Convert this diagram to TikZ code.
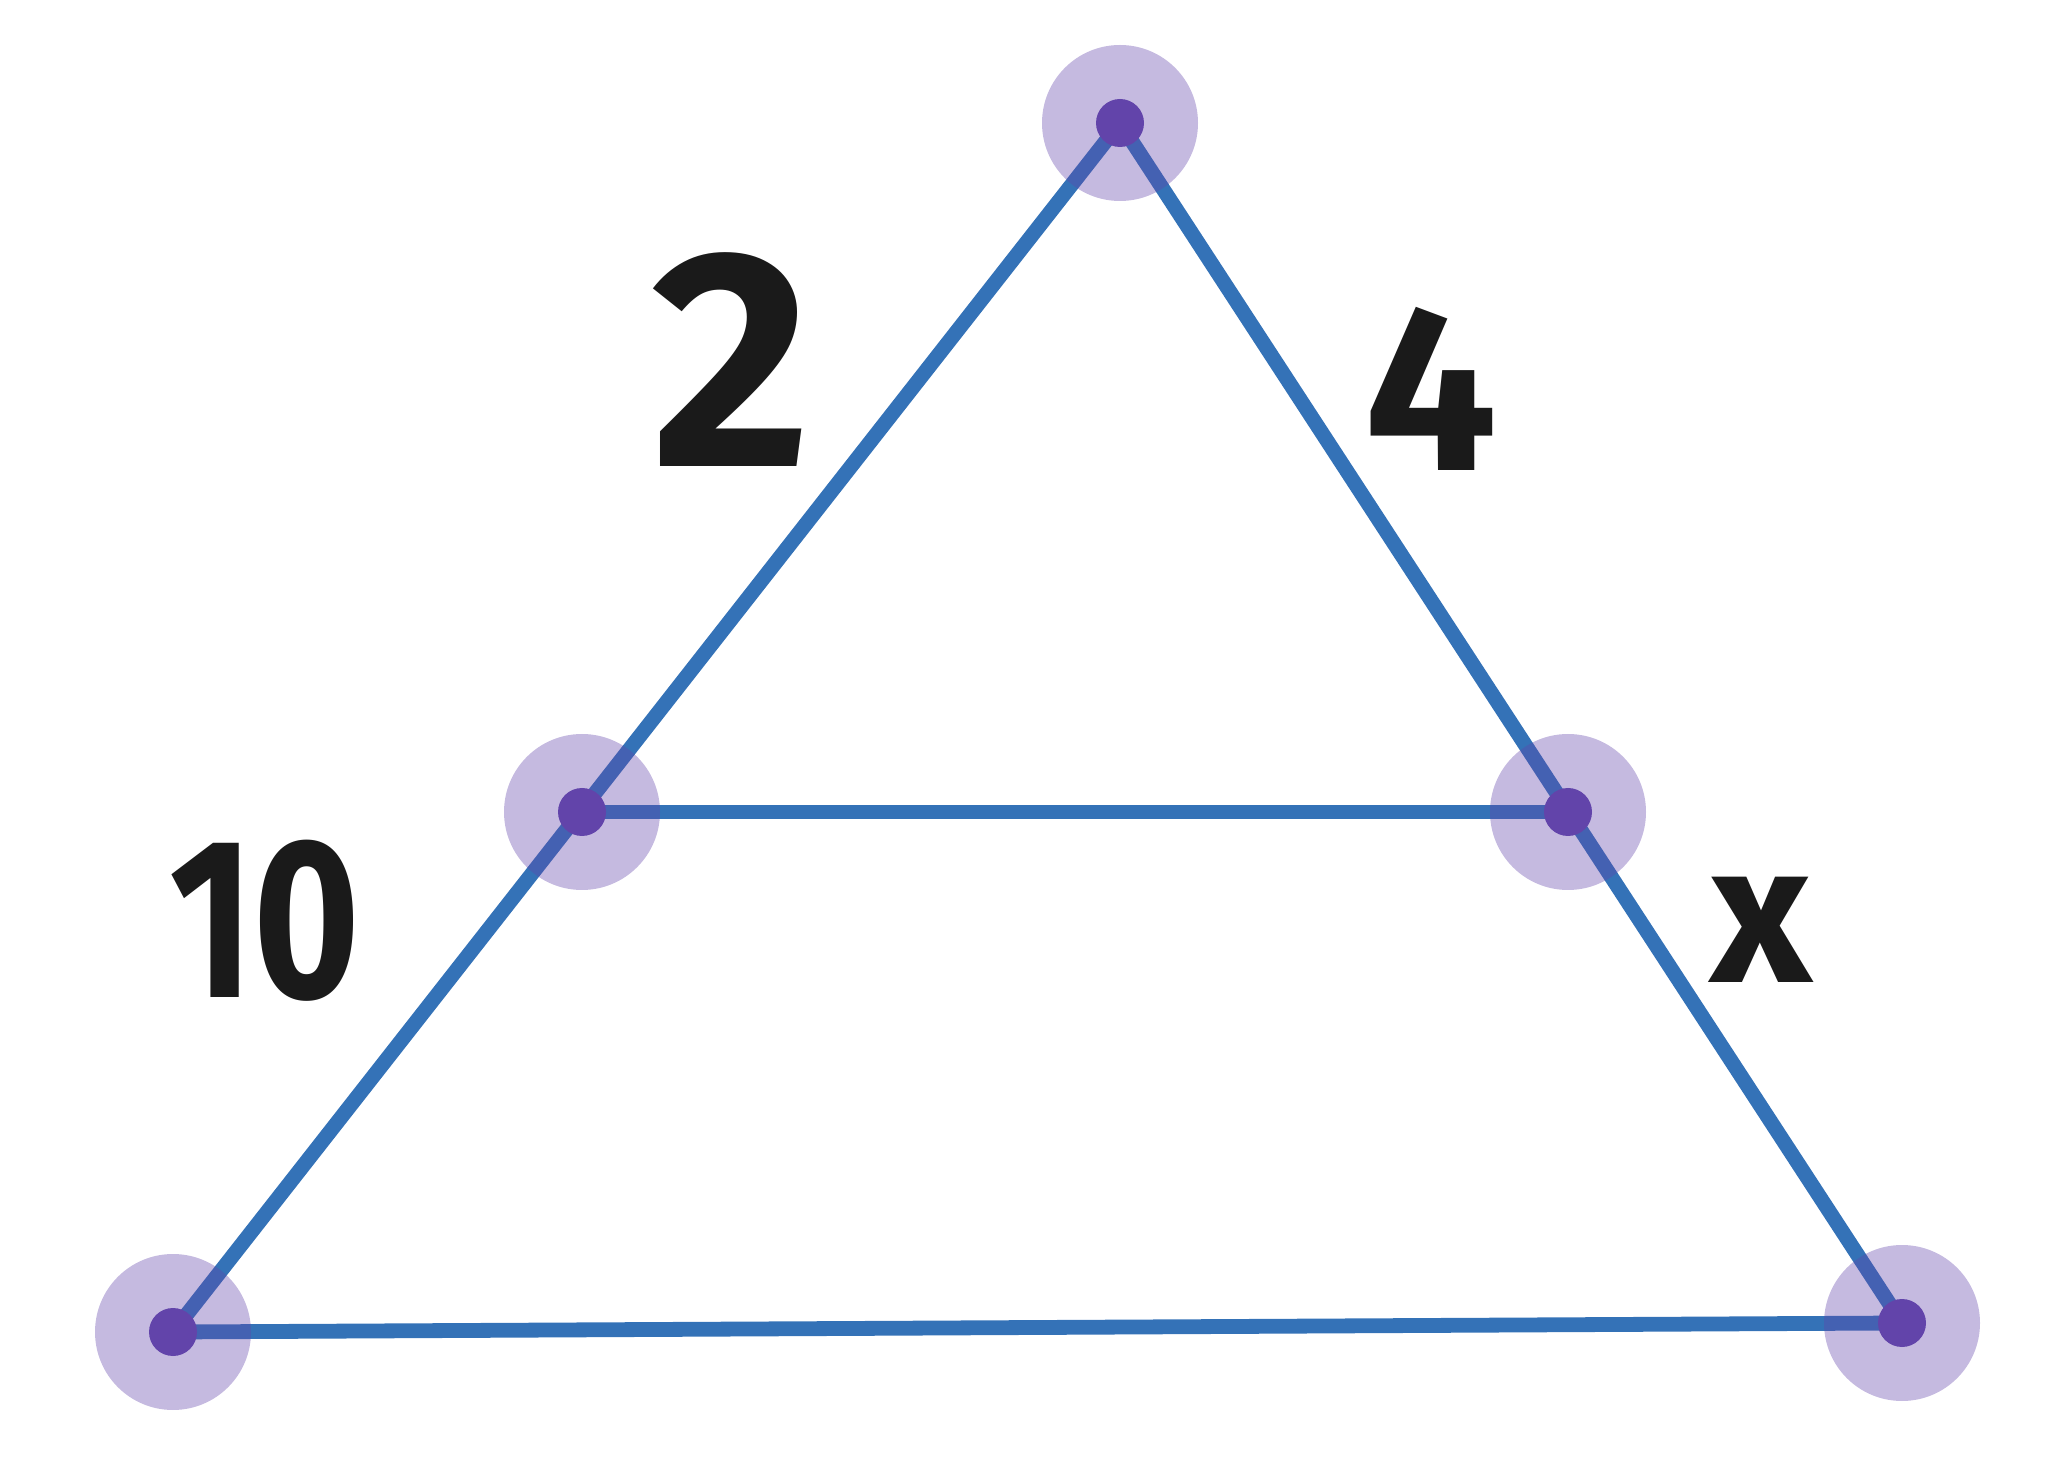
\documentclass[tikz,border=0pt]{standalone}
\usepackage{fontspec}
\setsansfont{Fira Sans}

\definecolor{segblue}{RGB}{52,114,183}
\definecolor{ptpurple}{RGB}{98,68,170}
\definecolor{inkblack}{RGB}{26,26,26}

\tikzset{every picture/.style={line width=0.75pt}}
\tikzset{
	side/.style={draw=segblue, line width=3.7pt, line cap=round},
	halo/.style={fill=ptpurple, fill opacity=0.37},
	ptdot/.style={fill=ptpurple},
	lbl/.style={text=inkblack, inner sep=0pt, font=\sffamily\bfseries\fontsize{62}{62}\selectfont}}

\begin{document}
\begin{tikzpicture}[x=0.25pt,y=0.25pt,yscale=-1,xscale=1]
	\useasboundingbox (0,0) rectangle (2048,1475);
	
	% Points
	\coordinate (apex) at (1120,123);
	\coordinate (midL) at (582,812);
	\coordinate (midR) at (1568,812);
	\coordinate (botL) at (173,1332);
	\coordinate (botR) at (1902,1323);
	
	%Straight Lines 
	\draw [side] (apex) -- (botL) ;
	%Straight Lines 
	\draw [side] (apex) -- (botR) ;
	%Straight Lines 
	\draw [side] (midL) -- (midR) ;
	%Straight Lines 
	\draw [side] (botL) -- (botR) ;
	
	%Shape: Circle 
	\foreach \p in {apex,midL,midR,botL,botR}{
		\fill [halo] (\p) circle (78) ;
		\fill [ptdot] (\p) circle (24) ;
	}
	
	% Text Node
	\node (lblTwo) [lbl, scale=1.25] at (732,360) {2};
	% Text Node
	\node (lblFour) [lbl, scale=0.95] at (1431,389) {4};
	% Text Node
	\node (lblTen) [lbl, scale=0.92, xscale=0.8] at (265,921) {10};
	% Text Node
	\node (lblX) [lbl, scale=0.8] at (1761,930) {x};
	
\end{tikzpicture}
\end{document}
